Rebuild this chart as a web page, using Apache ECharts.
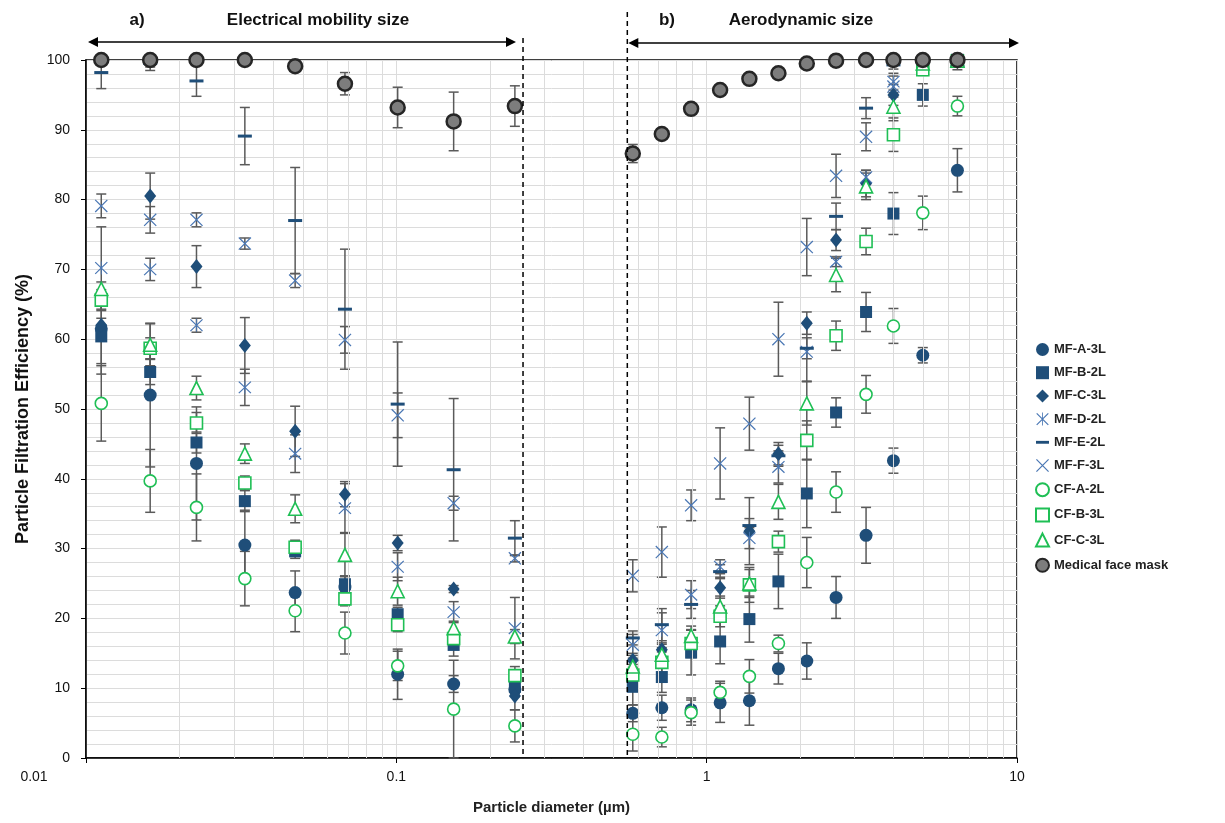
<!DOCTYPE html>
<html><head><meta charset="utf-8">
<script src="https://cdn.jsdelivr.net/npm/echarts@6/dist/echarts.min.js"></script>
<style>html,body{margin:0;padding:0;background:#fff}#c{width:1225px;height:823px}</style>
</head><body><div id="c"></div>
<script>
// particle diameters (µm): 9 electrical-mobility channels + 12 aerodynamic channels
const diameters = [0.0112, 0.0161, 0.0227, 0.0325, 0.0472, 0.0683, 0.101, 0.153, 0.241,
                   0.578, 0.717, 0.891, 1.105, 1.373, 1.703, 2.102, 2.612, 3.263, 3.998, 4.971, 6.427];

const mfA3L   = [61.5, 52.0, 42.2, 30.5, 23.7, 24.5, 12.0, 10.6, 9.8, 6.4, 7.2, 6.9, 7.9, 8.2, 12.8, 13.9, 23.0, 31.9, 42.6, 57.7, 84.2];
const mfA3LErr= [5, 10.3, 8.1, 5, 3.1, 1.5, 3.6, 1.2, 1, 1.2, 1.8, 1.7, 2.8, 3.5, 2.2, 2.6, 3.0, 4.0, 1.8, 1.1, 3.1];
const mfB2L   = [60.4, 55.3, 45.2, 36.8, 29.6, 24.9, 20.6, 16.2, 10.2, 10.2, 11.6, 15.1, 16.7, 19.9, 25.3, 37.9, 49.5, 63.9, 78.0, 95.0, 99.8];
const mfB2LErr= [5.4, 1.8, 1.5, 1.5, 1, 1.2, 1, 1.6, 1, 2.6, 2.2, 3.2, 3.2, 3.3, 3.9, 4.9, 2.1, 2.8, 3.0, 1.6, 0.3];
const mfC3L   = [62.0, 80.5, 70.4, 59.1, 46.8, 37.8, 30.8, 24.2, 8.9, 14.0, 15.5, 16.8, 24.4, 32.5, 43.6, 62.3, 74.2, 82.3, 95.0, 99.7, 100];
const mfC3LErr= [1, 3.3, 3, 4, 3.6, 1.8, 1.1, 0.5, 2, 1, 1, 1.5, 1.5, 4.8, 1.6, 1.6, 1.5, 1.9, 1.5, 0.3, 0.2];
const mfD2L   = [70.2, 70.0, 62.0, 53.1, 43.6, 35.8, 27.4, 20.9, 18.6, 16.2, 18.3, 23.4, 27.4, 31.5, 41.7, 58.2, 71.1, 83.2, 96.9, 99.7, 100];
const mfD2LErr= [5.9, 1.6, 1, 2.6, 2.7, 3.5, 2, 1.5, 4.4, 1.5, 2.5, 2, 1, 1.5, 2.3, 4.2, 0.7, 1, 1.2, 0.3, 0.2];
const mfE2L   = [98.2, 99.5, 97.0, 89.1, 77.0, 64.3, 50.7, 41.3, 31.5, 17.2, 19.1, 22.0, 26.7, 33.3, 43.3, 58.7, 77.6, 93.1, 99.3, 99.6, 99.1];
const mfE2LErr= [2.3, 1, 2.2, 4.1, 7.6, 8.6, 8.9, 10.2, 2.5, 1, 2.3, 2, 1, 1, 1.5, 1.5, 1.9, 1.5, 0.6, 0.4, 0.5];
const mfF3L   = [79.1, 77.1, 77.1, 73.7, 68.4, 59.9, 49.1, 36.5, 28.6, 26.1, 29.5, 36.2, 42.2, 47.9, 60.0, 73.2, 83.4, 89.0, 96.2, 99.8, 100];
const mfF3LErr= [1.7, 1.9, 1, 0.8, 1, 1.9, 3.2, 1, 0.5, 2.3, 3.6, 2.2, 5.1, 3.8, 5.3, 4.1, 3.1, 2, 1.5, 0.2, 0.1];
const cfA2L   = [50.8, 39.7, 35.9, 25.7, 21.1, 17.9, 13.2, 7.0, 4.6, 3.4, 3.0, 6.5, 9.4, 11.7, 16.4, 28.0, 38.1, 52.1, 61.9, 78.1, 93.4];
const cfA2LErr= [5.4, 4.5, 4.8, 3.9, 3, 3, 2.1, 7, 2.3, 2.4, 1.4, 1.8, 1.6, 2.4, 1.2, 3.6, 2.9, 2.7, 2.5, 2.4, 1.4];
const cfB3L   = [65.6, 58.7, 48.0, 39.4, 30.2, 22.8, 19.1, 17.1, 11.8, 11.9, 13.7, 16.4, 20.3, 24.8, 31.0, 45.5, 60.5, 74.0, 89.3, 98.6, 99.9];
const cfB3LErr= [1.5, 1.5, 1.5, 1, 1, 1, 1, 1, 1.3, 1.5, 1.5, 2, 1.5, 2.5, 1.5, 2.8, 2.1, 1.9, 2.4, 0.8, 0.1];
const cfC3L   = [67.2, 59.2, 53.0, 43.6, 35.7, 29.1, 23.9, 18.6, 17.4, 13.1, 14.8, 17.5, 21.7, 25.0, 36.7, 50.8, 69.2, 81.9, 93.3, 99.5, 99.9];
const cfC3LErr= [1, 3, 1.7, 1.4, 2, 3.1, 2, 1, 1, 1.2, 1.5, 1.4, 1.5, 2, 2.5, 3.1, 2.4, 1.9, 2, 0.5, 0.1];
const maskMed = [100, 100, 100, 100, 99.1, 96.6, 93.2, 91.2, 93.4, 86.6, 89.4, 93.0, 95.7, 97.3, 98.1, 99.5, 99.9, 100, 100, 100, 100];
const maskMedErr = [0.3, 1, 0.3, 0.3, 0.5, 1.6, 2.9, 4.2, 2.9, 1.3, 0.5, 0.5, 0.4, 0.4, 0.4, 0.3, 0.2, 0.1, 0.1, 0.1, 0.1];

const xTickLabels = ['0.01', '0.1', '1', '10'];
const separators = [0.256, 0.555];
const minorGridX = [0.02,0.03,0.04,0.05,0.06,0.07,0.08,0.09,0.2,0.3,0.4,0.5,0.6,0.7,0.8,0.9,2,3,4,5,6,7,8,9];

const NAVY = '#1f4e79', BLUE = '#4a77b4', GREEN = '#1fbf55';
const X_PATH = 'path://M11,5 L95,89 L89,95 L5,11 Z M95,11 L11,95 L5,89 L89,5 Z';
const AST_PATH = 'path://M11,5 L95,89 L89,95 L5,11 Z M95,11 L11,95 L5,89 L89,5 Z M47,3 L53,3 L53,97 L47,97 Z';
const DASH_PATH = 'path://M0,0 L100,0 L100,22 L0,22 Z';

const seriesDefs = [
  {name:'MF-A-3L', v:mfA3L, e:mfA3LErr, symbol:'circle', size:13, style:{color:NAVY}},
  {name:'MF-B-2L', v:mfB2L, e:mfB2LErr, symbol:'rect', size:12, style:{color:NAVY}},
  {name:'MF-C-3L', v:mfC3L, e:mfC3LErr, symbol:'diamond', size:[12,15], style:{color:NAVY}},
  {name:'MF-D-2L', v:mfD2L, e:mfD2LErr, symbol:AST_PATH, size:13, style:{color:BLUE}},
  {name:'MF-E-2L', v:mfE2L, e:mfE2LErr, symbol:'rect', size:[14,3], style:{color:NAVY}},
  {name:'MF-F-3L', v:mfF3L, e:mfF3LErr, symbol:X_PATH, size:13, style:{color:BLUE}},
  {name:'CF-A-2L', v:cfA2L, e:cfA2LErr, symbol:'circle', size:12, style:{color:'#fff', borderColor:GREEN, borderWidth:1.6}},
  {name:'CF-B-3L', v:cfB3L, e:cfB3LErr, symbol:'rect', size:12, style:{color:'#fff', borderColor:GREEN, borderWidth:1.6}},
  {name:'CF-C-3L', v:cfC3L, e:cfC3LErr, symbol:'triangle', size:13, style:{color:'#fff', borderColor:GREEN, borderWidth:1.6}},
  {name:'Medical face mask', v:maskMed, e:maskMedErr, symbol:'circle', size:14, style:{color:'#7d7d7d', borderColor:'#262626', borderWidth:2.5}}
];

const errData = [];
seriesDefs.forEach(s => s.v.forEach((y, i) => {
  errData.push([diameters[i], Math.max(0, y - s.e[i]), Math.min(100, y + s.e[i])]);
}));

function renderErr(params, api) {
  const x = api.value(0), lo = api.value(1), hi = api.value(2);
  const a = api.coord([x, hi]), b = api.coord([x, lo]);
  const w = 5;
  const style = {stroke:'#5a5a5a', lineWidth:1.5};
  return {type:'group', children:[
    {type:'line', shape:{x1:a[0], y1:a[1], x2:b[0], y2:b[1]}, style},
    {type:'line', shape:{x1:a[0]-w, y1:a[1], x2:a[0]+w, y2:a[1]}, style},
    {type:'line', shape:{x1:b[0]-w, y1:b[1], x2:b[0]+w, y2:b[1]}, style}
  ]};
}

const FONT = 'Liberation Sans';
const series = [
  {type:'scatter', name:'_grid', data:[], silent:true, z:0,
   markLine:{silent:true, symbol:'none', label:{show:false}, animation:false,
     lineStyle:{color:'#dcdcdc', width:1, type:'solid'}, emphasis:{disabled:true},
     data: minorGridX.map(v => ({xAxis:v}))}},
  {type:'custom', name:'_err', data:errData, renderItem:renderErr, z:2, silent:true,
   encode:{x:0, y:[1,2]}}
];
seriesDefs.forEach((s, k) => series.push({
  type:'scatter', name:s.name, symbol:s.symbol, symbolSize:s.size, z:3 + k,
  itemStyle:Object.assign({opacity:1}, s.style),
  data: s.v.map((y, i) => [diameters[i], y])
}));

const chart = echarts.init(document.getElementById('c'));
chart.setOption({
  animation:false,
  backgroundColor:'#fff',
  textStyle:{fontFamily:FONT},
  grid:{left:86, right:208, top:60, bottom:65, show:true, borderColor:'#000', borderWidth:1.5, backgroundColor:'transparent'},
  legend:{
    orient:'vertical', left:1030, top:338, itemGap:10.2, itemWidth:13, itemHeight:13,
    textStyle:{fontFamily:FONT, fontWeight:'bold', fontSize:13, color:'#222'},
    data: seriesDefs.map(s => s.name === 'MF-E-2L' ? {name:s.name, icon:DASH_PATH} : {name:s.name})
  },
  xAxis:{
    type:'log', logBase:10, min:0.01, max:10,
    name:'Particle diameter (µm)', nameLocation:'middle', nameGap:42,
    nameTextStyle:{fontFamily:FONT, fontWeight:'bold', fontSize:15, color:'#222'},
    axisLine:{lineStyle:{color:'#000', width:1.5}},
    axisTick:{show:true, length:5, lineStyle:{color:'#000'}},
    axisLabel:{fontSize:14, color:'#111', margin:12,
      rich:{first:{fontSize:14, color:'#111', padding:[0,104,0,0]}},
      formatter: v => {
        const s = String(parseFloat(Number(v).toPrecision(3)));
        if (!xTickLabels.includes(s)) return '';
        return s === xTickLabels[0] ? '{first|' + s + '}' : s;
      }},
    splitLine:{show:true, lineStyle:{color:'#dcdcdc', width:1}}
  },
  yAxis:{
    type:'value', min:0, max:100, interval:10,
    name:'Particle Filtration Efficiency (%)', nameLocation:'middle', nameGap:54,
    nameTextStyle:{fontFamily:FONT, fontWeight:'bold', fontSize:18, color:'#111'},
    axisLine:{show:true, lineStyle:{color:'#000', width:1.5}},
    axisTick:{show:true, length:5, lineStyle:{color:'#000'}},
    axisLabel:{fontSize:14, color:'#111', margin:16},
    splitLine:{show:true, lineStyle:{color:'#dcdcdc', width:1}},
    minorTick:{show:false, splitNumber:5},
    minorSplitLine:{show:true, lineStyle:{color:'#dcdcdc', width:1}}
  },
  series
});

const px0 = chart.convertToPixel({xAxisIndex:0}, separators[0]);
const px1 = chart.convertToPixel({xAxisIndex:0}, separators[1]);
const yBot = chart.convertToPixel({yAxisIndex:0}, 0);
const xLeft = chart.convertToPixel({xAxisIndex:0}, 0.01);
const xRight = chart.convertToPixel({xAxisIndex:0}, 10);
const ay1 = 42, ay2 = 43;
const black = {fill:'#000'};
chart.setOption({graphic:[
  {type:'line', shape:{x1:px0, y1:38, x2:px0, y2:yBot}, style:{stroke:'#000', lineWidth:1.5, lineDash:[5,4]}, z:50},
  {type:'line', shape:{x1:px1, y1:12, x2:px1, y2:yBot}, style:{stroke:'#000', lineWidth:1.5, lineDash:[5,4]}, z:50},
  {type:'line', shape:{x1:xLeft+8, y1:ay1, x2:px0-12, y2:ay1}, style:{stroke:'#000', lineWidth:1.5}, z:50},
  {type:'polygon', shape:{points:[[xLeft+2,ay1],[xLeft+12,ay1-5],[xLeft+12,ay1+5]]}, style:black, z:50},
  {type:'polygon', shape:{points:[[px0-7,ay1],[px0-17,ay1-5],[px0-17,ay1+5]]}, style:black, z:50},
  {type:'line', shape:{x1:px1+8, y1:ay2, x2:xRight-8, y2:ay2}, style:{stroke:'#000', lineWidth:1.5}, z:50},
  {type:'polygon', shape:{points:[[px1+1,ay2],[px1+11,ay2-5],[px1+11,ay2+5]]}, style:black, z:50},
  {type:'polygon', shape:{points:[[xRight+2,ay2],[xRight-8,ay2-5],[xRight-8,ay2+5]]}, style:black, z:50},
  {type:'text', x:137, y:20, style:{text:'a)', fontFamily:FONT, fontWeight:'bold', fontSize:17, fill:'#111', align:'center', verticalAlign:'middle'}, z:50},
  {type:'text', x:318, y:20, style:{text:'Electrical mobility size', fontFamily:FONT, fontWeight:'bold', fontSize:17, fill:'#111', align:'center', verticalAlign:'middle'}, z:50},
  {type:'text', x:667, y:20, style:{text:'b)', fontFamily:FONT, fontWeight:'bold', fontSize:17, fill:'#111', align:'center', verticalAlign:'middle'}, z:50},
  {type:'text', x:801, y:20, style:{text:'Aerodynamic size', fontFamily:FONT, fontWeight:'bold', fontSize:17, fill:'#111', align:'center', verticalAlign:'middle'}, z:50}
]});
</script>
</body></html>
